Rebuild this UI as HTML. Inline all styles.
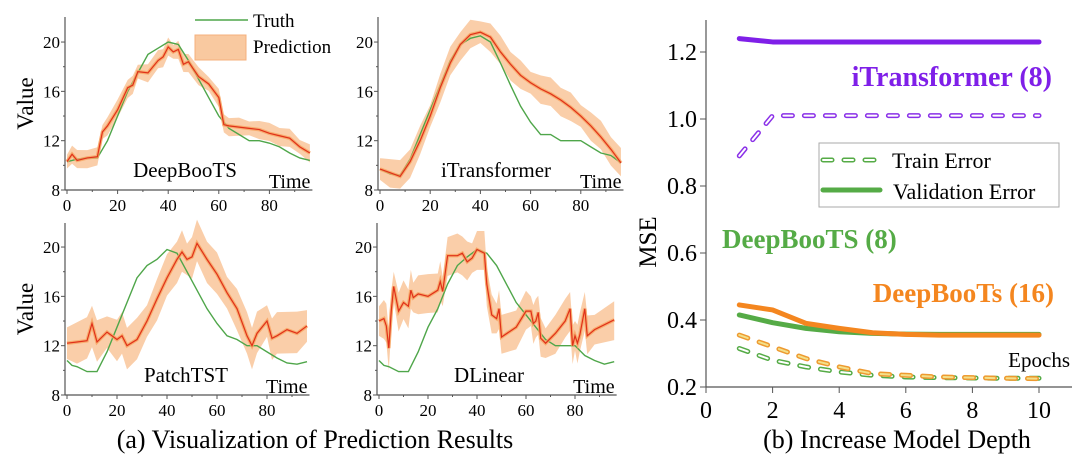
<!DOCTYPE html>
<html><head><meta charset="utf-8">
<style>
html,body{margin:0;padding:0;background:#fff;}
svg{display:block;}
svg text{font-family:"Liberation Serif","Times New Roman",serif !important;}
</style></head>
<body>
<svg id="fig" width="1082" height="464" viewBox="0 0 1082 464" xmlns="http://www.w3.org/2000/svg">
<text x="315" y="448" font-size="26" text-anchor="middle">(a) Visualization of Prediction Results</text>
<text x="897" y="448" font-size="26" text-anchor="middle">(b) Increase Model Depth</text>
<g>
<line x1="195" y1="20" x2="248" y2="20" stroke="#4fa64a" stroke-width="1.5"/>
<text x="253" y="27" font-size="19">Truth</text>
<rect x="195" y="35" width="51" height="25" fill="#f9c9a0" stroke="#f5b07c"/>
<text x="253" y="53" font-size="19">Prediction</text>
</g>
</svg>
<script>
// ---------- Panel data (a) ----------
const p1TruthT=[0,4,8,12,16,20,24,28,32,36,40,44,48,52,56,60,64,68,72,76,80,84,88,92,96];
const p1TruthV=[10.3,10.5,10.6,10.6,12,14,16,17.5,19,19.5,20,19.8,18.5,17,15.5,14,13,12.5,12,12,11.8,11.5,11,10.6,10.4];
const p1PredT=[0,2,4,8,12,14,16,20,24,26,28,32,36,38,40,42,44,46,48,52,56,60,62,64,68,72,76,80,84,88,92,96];
const p1PredV=[10.3,10.9,10.4,10.6,10.7,12.7,13.2,14.5,16.3,16.5,17.6,17.5,18.5,18.8,19.6,19.2,19.4,18.2,18.4,17.2,16.6,15.5,13.3,13.2,13.1,13,12.9,12.6,12.4,12.2,11.5,11];
const p1Band=0.7;
const p2TruthT=[0,4,8,12,16,20,24,28,32,36,40,44,48,52,56,60,64,68,72,76,80,84,88,92,96];
const p2TruthV=[9.7,9.3,9.2,10.5,12.5,14.5,16.5,18.5,19.8,20.3,20.5,20,18.3,16.5,14.8,13.5,12.5,12.5,12,12,12,11.5,11,10.8,10.2];
const p2PredT=[0,4,8,12,16,20,24,28,32,36,40,44,48,52,56,60,64,68,72,76,80,84,88,92,96];
const p2PredV=[9.7,9.4,9.1,10.3,12,14,16.3,18.3,19.8,20.6,20.8,20.4,19.2,18.2,17.3,16.7,16.2,15.8,15.3,14.7,14,13.2,12.3,11.3,10.2];
const p2Band=1.1;
const p3TruthT=[0,2,4,8,12,16,20,24,28,32,36,40,44,48,52,56,60,64,68,72,76,80,84,88,92,96];
const p3TruthV=[10.8,10.4,10.3,9.9,9.9,11.5,13.5,15.5,17.5,18.5,19,19.8,19.5,18,16.5,15,13.8,12.8,12.5,12,12,11.5,11,10.6,10.5,10.7];
const p3PredT=[0,4,8,10,12,16,20,22,24,28,32,36,40,44,46,48,50,52,56,60,64,68,72,74,76,80,82,84,88,92,96];
const p3PredV=[12.2,12.3,12.4,13.8,12.3,13.1,12.5,12.8,12,12.5,14,15.8,17.5,19,19.6,19,19.2,20.3,19,17.8,16.3,15,12.8,12,13,14,12.6,12.8,13.3,13,13.6];
const p3Band=1.6;
const p4TruthT=[0,2,4,8,12,16,20,24,28,32,36,40,44,48,52,56,60,64,68,72,76,80,84,88,92,96];
const p4TruthV=[10.8,10.4,10.3,9.9,9.9,11.5,13.5,15,17,18.5,19.2,19.8,19.5,18.5,17,15.5,14.5,13.5,12.5,12,12,12,11.2,10.8,10.5,10.7];
const p4PredT=[0,2,3,4,5,6,8,10,12,13,14,16,20,24,25,26,28,32,34,36,38,40,43,44,46,48,49,50,56,60,62,63,64,65,66,68,72,76,78,79,80,81,82,84,85,88,96];
const p4PredV=[14,14.2,13.6,11.8,14.8,16.8,14.8,15.5,15.2,16.5,15.9,16.2,16,16.5,17.2,16.4,19.3,19.3,19.5,18.8,19.1,19.8,19.5,17,14.5,14.2,15,12.7,13.5,14.8,14.8,13.8,14,14.7,12.6,12.2,13,14,15,12,12.8,12.2,12.9,15,12.8,13.3,14.1];
const p4Band=1.5;
const yTicksA=[8,12,16,20];
const xTicksA=[0,20,40,60,80];
// ---------- Chart (b) data ----------
const depth=[1,2,3,4,5,6,7,8,9,10];
const itValV=[1.24,1.23,1.23,1.23,1.23,1.23,1.23,1.23,1.23,1.23];
const itTrainV=[0.89,1.01,1.01,1.01,1.01,1.01,1.01,1.01,1.01,1.01];
const dbValV=[0.415,0.392,0.375,0.365,0.36,0.358,0.357,0.357,0.357,0.357];
const dbTrainV=[0.315,0.28,0.26,0.245,0.235,0.23,0.228,0.227,0.226,0.226];
const ds16ValV=[0.445,0.43,0.39,0.375,0.362,0.357,0.355,0.355,0.355,0.355];
const ds16TrainV=[0.355,0.32,0.285,0.26,0.24,0.235,0.23,0.228,0.226,0.225];
const yTicksB=[0.2,0.4,0.6,0.8,1.0,1.2];
const xTicksB=[0,2,4,6,8,10];

const NS="http://www.w3.org/2000/svg";
const svg=document.getElementById('fig');
function mk(tag,attrs,parent){const e=document.createElementNS(NS,tag);for(const k in attrs)e.setAttribute(k,attrs[k]);if(tag==='text')e.setAttribute('font-family','Liberation Serif, serif');(parent||svg).appendChild(e);return e;}

function panel(cfg){
  const g=mk('g',{});
  
  
  const X=t=>cfg.x0+t*cfg.sx, Y=v=>cfg.y8-(v-8)*cfg.sy;
  let up=cfg.pT.map((t,i)=>X(t)+','+Y(cfg.pV[i]+cfg.band*(0.8+0.4*((i*7)%5)/4)));
  let dn=cfg.pT.map((t,i)=>X(t)+','+Y(cfg.pV[i]-cfg.band*(0.8+0.4*((i*3)%5)/4))).reverse();
  const band=mk('polygon',{points:up.concat(dn).join(' '),fill:'#f9c9a0',opacity:'0.9'},g);
  
  
  const tr=mk('polyline',{points:cfg.tT.map((t,i)=>X(t)+','+Y(cfg.tV[i])).join(' '),fill:'none',stroke:'#4fa64a','stroke-width':1.4},g);
  
  
  const pts=cfg.pT.map((t,i)=>X(t)+','+Y(cfg.pV[i])).join(' ');
  mk('polyline',{points:pts,fill:'none',stroke:'#f7a25e','stroke-width':3.5,opacity:'0.8'},g);
  const pl=mk('polyline',{points:pts,fill:'none',stroke:'#e0301a','stroke-width':1.2},g);
  
  
  mk('line',{x1:cfg.ax,y1:cfg.top,x2:cfg.ax,y2:cfg.y8,stroke:'#555','stroke-width':1.2},g);
  mk('line',{x1:cfg.ax,y1:cfg.y8,x2:X(97),y2:cfg.y8,stroke:'#555','stroke-width':1.2},g);
  yTicksA.forEach(v=>{mk('line',{x1:cfg.ax-4,y1:Y(v),x2:cfg.ax,y2:Y(v),stroke:'#555'},g);
    if(v<20)mk('line',{x1:cfg.ax-2,y1:Y(v+2),x2:cfg.ax,y2:Y(v+2),stroke:'#555'},g);
    const t=mk('text',{x:cfg.ax-5,y:Y(v)+6,'font-size':17,'text-anchor':'end'},g);t.textContent=v;});
  for(let t=0;t<=90;t+=10){mk('line',{x1:X(t),y1:cfg.y8,x2:X(t),y2:cfg.y8+(t%20?2:4),stroke:'#555'},g);}
  xTicksA.forEach(v=>{const t=mk('text',{x:X(v),y:cfg.y8+21,'font-size':17,'text-anchor':'middle'},g);t.textContent=v;});
  const nm=mk('text',{x:cfg.lx,y:cfg.y8-13,'font-size':21,'text-anchor':'middle'},g);nm.textContent=cfg.label;
  const tm=mk('text',{x:X(97)-2,y:cfg.y8-2,'font-size':20,'text-anchor':'end'},g);tm.textContent='Time';
  if(cfg.value){const vl=mk('text',{transform:`translate(33,${(cfg.top+cfg.y8)/2}) rotate(-90)`,'font-size':23,'text-anchor':'middle'},g);vl.textContent='Value';}
}
panel({name:'panel-deepboots',x0:67,sx:2.53,y8:190,sy:12.33,top:17,ax:65,tT:p1TruthT,tV:p1TruthV,pT:p1PredT,pV:p1PredV,band:p1Band,label:'DeepBooTS',lx:185,value:true});
panel({name:'panel-itransformer',x0:380,sx:2.51,y8:190,sy:12.33,top:17,ax:378,tT:p2TruthT,tV:p2TruthV,pT:p2PredT,pV:p2PredV,band:p2Band,label:'iTransformer',lx:496,value:false});
panel({name:'panel-patchtst',x0:67,sx:2.5,y8:395,sy:12.33,top:223,ax:65,tT:p3TruthT,tV:p3TruthV,pT:p3PredT,pV:p3PredV,band:p3Band,label:'PatchTST',lx:186,value:true});
panel({name:'panel-dlinear',x0:379,sx:2.45,y8:395,sy:12.33,top:223,ax:377,tT:p4TruthT,tV:p4TruthV,pT:p4PredT,pV:p4PredV,band:p4Band,label:'DLinear',lx:489,value:false});

const gb=mk('g',{});


const BX=d=>706+d*33.3, BY=v=>387-(v-0.2)*335;
mk('line',{x1:706,y1:20,x2:706,y2:387,stroke:'#555','stroke-width':1.2},gb);
mk('line',{x1:706,y1:387,x2:1072,y2:387,stroke:'#555','stroke-width':1.2},gb);
yTicksB.forEach(v=>{mk('line',{x1:700,y1:BY(v),x2:706,y2:BY(v),stroke:'#555'},gb);
  const t=mk('text',{x:697,y:BY(v)+8,'font-size':24,'text-anchor':'end'},gb);t.textContent=v.toFixed(1);});
xTicksB.forEach(v=>{mk('line',{x1:BX(v),y1:387,x2:BX(v),y2:393,stroke:'#555'},gb);
  const t=mk('text',{x:BX(v),y:418,'font-size':24,'text-anchor':'middle'},gb);t.textContent=v;});
const ml=mk('text',{transform:'translate(656,242) rotate(-90)','font-size':25,'text-anchor':'middle'},gb);ml.textContent='MSE';
function solid(vals,col,name){const l=mk('polyline',{points:depth.map((d,i)=>BX(d)+','+BY(vals[i])).join(' '),fill:'none',stroke:col,'stroke-width':5,'stroke-linecap':'round','stroke-linejoin':'round'},gb);
  
  }
function dashed(vals,col,inner,name){const p=depth.map((d,i)=>BX(d)+','+BY(vals[i])).join(' ');
  const l=mk('polyline',{points:p,fill:'none',stroke:col,'stroke-width':5,'stroke-dasharray':'9 12','stroke-linecap':'round'},gb);
  
  
  mk('polyline',{points:p,fill:'none',stroke:inner,'stroke-width':2,'stroke-dasharray':'9 12','stroke-linecap':'round'},gb);}
solid(itValV,'#7f1fe8','itransformer-validation');
dashed(itTrainV,'#8a30e8','#fff','itransformer-train');
solid(dbValV,'#55ab46','deepboots-validation');
solid(ds16ValV,'#f4861f','deepboots16-validation');
dashed(dbTrainV,'#55ab46','#fff','deepboots-train');
dashed(ds16TrainV,'#ee9a30','#f3e08a','deepboots16-train');

const lg=mk('g',{});


mk('rect',{x:819,y:143,width:240,height:64,fill:'#fff',stroke:'#aaa'},lg);
mk('line',{x1:823,y1:160,x2:880,y2:160,stroke:'#55ab46','stroke-width':5,'stroke-dasharray':'9 12','stroke-linecap':'round'},lg);
mk('line',{x1:823,y1:160,x2:880,y2:160,stroke:'#fff','stroke-width':2,'stroke-dasharray':'9 12','stroke-linecap':'round'},lg);
let tx=mk('text',{x:892,y:168,'font-size':22},lg);tx.textContent='Train Error';
mk('line',{x1:823,y1:190,x2:880,y2:190,stroke:'#55ab46','stroke-width':5,'stroke-linecap':'round'},lg);
tx=mk('text',{x:893,y:199,'font-size':22},lg);tx.textContent='Validation Error';
tx=mk('text',{x:1052,y:86,'font-size':28,'font-weight':'bold',fill:'#7f1fe8','text-anchor':'end'});tx.textContent='iTransformer (8)';


tx=mk('text',{x:722,y:248,'font-size':27,'font-weight':'bold',fill:'#55ab46'});tx.textContent='DeepBooTS (8)';


tx=mk('text',{x:1054,y:302,'font-size':27,'font-weight':'bold',fill:'#f4861f','text-anchor':'end'});tx.textContent='DeepBooTs (16)';


tx=mk('text',{x:1070,y:367,'font-size':21,'text-anchor':'end'});tx.textContent='Epochs';


</script>
</body></html>
